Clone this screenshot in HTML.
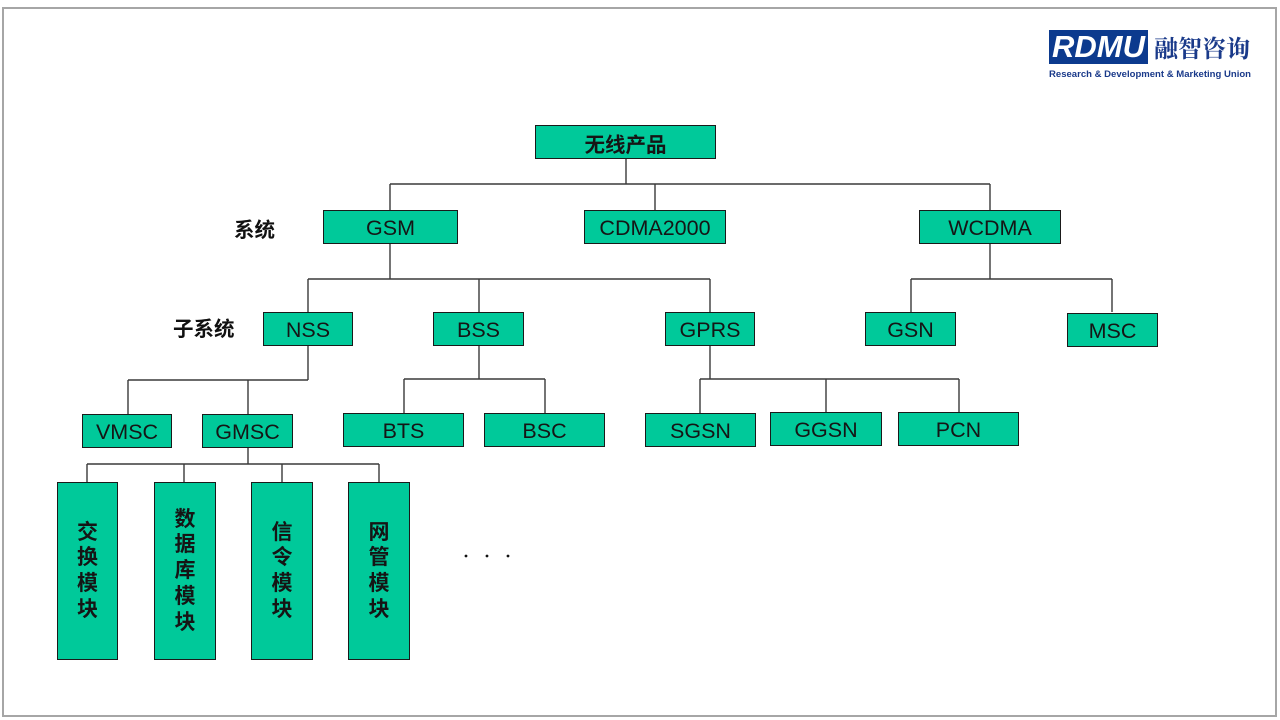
<!DOCTYPE html>
<html><head><meta charset="utf-8"><style>
html,body{margin:0;padding:0;background:#fff;}
#c{position:relative;width:1280px;height:720px;overflow:hidden;background:#fff;font-family:"Liberation Sans","Noto Sans CJK SC",sans-serif;}
.frame{position:absolute;left:2px;top:7px;width:1271px;height:706px;border:2px solid #a6a6a6;}
.b{position:absolute;background:#00c99a;border:1px solid #1a1a1a;box-sizing:border-box;display:flex;align-items:center;justify-content:center;font-size:21.5px;color:#151515;padding-top:2px;}
.v{font-weight:bold;font-size:21px;line-height:25.7px;text-align:center;flex-direction:column;padding-top:0;}
.lbl{position:absolute;font-weight:bold;font-size:20.5px;color:#111;white-space:nowrap;}
svg{position:absolute;left:0;top:0;}
</style></head><body><div id="c">
<div class="frame"></div>

<!-- logo -->
<div style="position:absolute;left:1049px;top:30px;width:99px;height:34px;background:#0c3a8e;color:#fff;font-weight:bold;font-style:italic;font-size:31px;line-height:34px;text-align:center;">RDMU</div>
<div style="position:absolute;left:1154px;top:33px;font-family:'Noto Serif CJK SC','Noto Sans CJK SC',serif;font-weight:bold;font-size:24px;color:#1a3a8a;line-height:28px;">融智咨询</div>

<svg width="1280" height="720">
<text x="1049" y="77" textLength="202" lengthAdjust="spacingAndGlyphs" font-family="Liberation Sans, sans-serif" font-size="9" font-weight="bold" fill="#1a3a8a">Research &amp; Development &amp; Marketing Union</text>
<g stroke="#3a3a3a" stroke-width="1.4" fill="none">
<path d="M626 159V184M390 184H990M390 184V210M655 184V210M990 184V210"/>
<path d="M390 244V279M308 279H710M308 279V312M479 279V312M710 279V312"/>
<path d="M990 244V279M911 279H1112M911 279V312M1112 279V312"/>
<path d="M308 346V380M128 380H308M128 380V414M248 380V414"/>
<path d="M479 346V379M404 379H545M404 379V413M545 379V413"/>
<path d="M710 346V379M700 379H959M700 379V413M826 379V412M959 379V412"/>
<path d="M248 447V464M87 464H379M87 464V482M184 464V482M282 464V482M379 464V482"/>
</g>
<circle cx="466" cy="556" r="1.4" fill="#111"/>
<circle cx="487" cy="556" r="1.4" fill="#111"/>
<circle cx="508" cy="556" r="1.4" fill="#111"/>
</svg>

<div class="lbl" style="left:234px;top:213px;">系统</div>
<div class="lbl" style="left:173px;top:312px;">子系统</div>

<div class="b" style="left:535px;top:125px;width:181px;height:34px;font-weight:bold;font-size:20.5px;">无线产品</div>
<div class="b" style="left:323px;top:210px;width:135px;height:34px;">GSM</div>
<div class="b" style="left:584px;top:210px;width:142px;height:34px;">CDMA2000</div>
<div class="b" style="left:919px;top:210px;width:142px;height:34px;">WCDMA</div>

<div class="b" style="left:263px;top:312px;width:90px;height:34px;">NSS</div>
<div class="b" style="left:433px;top:312px;width:91px;height:34px;">BSS</div>
<div class="b" style="left:665px;top:312px;width:90px;height:34px;">GPRS</div>
<div class="b" style="left:865px;top:312px;width:91px;height:34px;">GSN</div>
<div class="b" style="left:1067px;top:313px;width:91px;height:34px;">MSC</div>

<div class="b" style="left:82px;top:414px;width:90px;height:34px;">VMSC</div>
<div class="b" style="left:202px;top:414px;width:91px;height:34px;">GMSC</div>
<div class="b" style="left:343px;top:413px;width:121px;height:34px;">BTS</div>
<div class="b" style="left:484px;top:413px;width:121px;height:34px;">BSC</div>
<div class="b" style="left:645px;top:413px;width:111px;height:34px;">SGSN</div>
<div class="b" style="left:770px;top:412px;width:112px;height:34px;">GGSN</div>
<div class="b" style="left:898px;top:412px;width:121px;height:34px;">PCN</div>

<div class="b v" style="left:57px;top:482px;width:61px;height:178px;">交<br>换<br>模<br>块</div>
<div class="b v" style="left:154px;top:482px;width:62px;height:178px;">数<br>据<br>库<br>模<br>块</div>
<div class="b v" style="left:251px;top:482px;width:62px;height:178px;">信<br>令<br>模<br>块</div>
<div class="b v" style="left:348px;top:482px;width:62px;height:178px;">网<br>管<br>模<br>块</div>

</div></body></html>
